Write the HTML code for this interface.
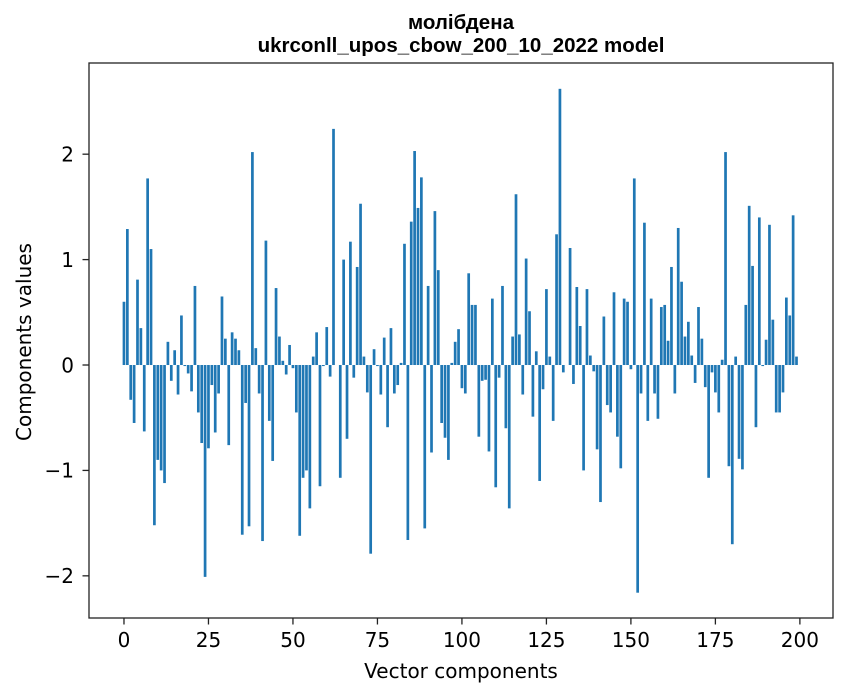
<!DOCTYPE html>
<html><head><meta charset="utf-8"><style>
body{margin:0;background:#fff;}
svg{display:block;font-family:"DejaVu Sans","Liberation Sans",sans-serif;}
</style></head><body>
<svg id="chart" width="847" height="696" xmlns="http://www.w3.org/2000/svg">
<text x="461" y="29" font-size="20.5" font-weight="bold" text-anchor="middle" font-family="Liberation Sans, sans-serif">молібдена</text>
<text x="461" y="52" font-size="20.5" font-weight="bold" text-anchor="middle" font-family="Liberation Sans, sans-serif">ukrconll_upos_cbow_200_10_2022 model</text>
<g id="bars"></g>
<g id="axes"></g>
<text x="461" y="678" font-size="20" text-anchor="middle">Vector components</text>
<text transform="translate(31,342) rotate(-90)" font-size="20" text-anchor="middle">Components values</text>
</svg>
<script>
const values = [0.60,1.29,-0.33,-0.55,0.81,0.35,-0.63,1.77,1.10,-1.52,
-0.90,-1.00,-1.12,0.22,-0.15,0.14,-0.28,0.47,-0.01,-0.08,
-0.25,0.75,-0.45,-0.74,-2.01,-0.79,-0.19,-0.64,-0.27,0.65,
0.25,-0.76,0.31,0.25,0.14,-1.61,-0.36,-1.53,2.02,0.16,
-0.27,-1.67,1.18,-0.53,-0.91,0.73,0.27,0.04,-0.09,0.19,
-0.03,-0.45,-1.62,-1.07,-1.00,-1.36,0.08,0.31,-1.15,-0.01,
0.36,-0.11,2.24,0.00,-1.07,1.00,-0.70,1.17,-0.12,0.93,
1.53,0.08,-0.26,-1.79,0.15,-0.01,-0.28,0.26,-0.59,0.35,
-0.27,-0.19,0.02,1.15,-1.66,1.36,2.03,1.49,1.78,-1.55,
0.75,-0.83,1.46,0.90,-0.55,-0.69,-0.90,0.02,0.22,0.34,
-0.22,-0.27,0.87,0.57,0.57,-0.68,-0.15,-0.14,-0.82,0.63,
-1.16,-0.12,0.75,-0.60,-1.36,0.27,1.62,0.29,-0.28,1.01,
0.51,-0.49,0.13,-1.10,-0.23,0.72,0.08,-0.53,1.24,2.62,
-0.07,0.00,1.11,-0.18,0.74,0.37,-1.00,0.72,0.09,-0.06,
-0.80,-1.30,0.46,-0.38,-0.45,0.69,-0.68,-0.98,0.63,0.60,
-0.04,1.77,-2.16,-0.27,1.35,-0.53,0.63,-0.27,-0.51,0.55,
0.57,0.23,0.93,-0.27,1.30,0.79,0.27,0.41,0.09,-0.17,
0.55,0.25,-0.21,-1.07,-0.07,-0.26,-0.45,0.05,2.02,-0.96,
-1.70,0.08,-0.89,-0.99,0.57,1.51,0.94,-0.59,1.40,-0.01,
0.24,1.33,0.43,-0.45,-0.45,-0.26,0.64,0.47,1.42,0.08];
const xTicks = [0,25,50,75,100,125,150,175,200];
const yTicks = [-2,-1,0,1,2];
const yTickLabels = ["\u22122","\u22121","0","1","2"];

const L=89,R=833,T=63,B=618;
const xMin=-10.35,xMax=209.8,yMin=-2.40,yMax=2.865;
const xs=v=>L+(v-xMin)/(xMax-xMin)*(R-L);
const ys=v=>B-(v-yMin)/(yMax-yMin)*(B-T);
const NS="http://www.w3.org/2000/svg";
const bars=document.getElementById('bars');
values.forEach((v,i)=>{
  const r=document.createElementNS(NS,'rect');
  const x0=xs(i-0.4),x1=xs(i+0.4);
  const y0=ys(Math.max(v,0)),y1=ys(Math.min(v,0));
  r.setAttribute('x',x0);r.setAttribute('width',x1-x0);
  r.setAttribute('y',y0);r.setAttribute('height',Math.max(y1-y0,0.01));
  r.setAttribute('fill','#1f77b4');
  
  
  bars.appendChild(r);
});
const axes=document.getElementById('axes');
const frame=document.createElementNS(NS,'rect');
frame.setAttribute('x',L);frame.setAttribute('y',T);frame.setAttribute('width',R-L);frame.setAttribute('height',B-T);
frame.setAttribute('fill','none');frame.setAttribute('stroke','#222');frame.setAttribute('stroke-width','1.3');


axes.appendChild(frame);
xTicks.forEach(t=>{
  const x=xs(t);
  const l=document.createElementNS(NS,'line');
  l.setAttribute('x1',x);l.setAttribute('x2',x);l.setAttribute('y1',B);l.setAttribute('y2',B+6.5);l.setAttribute('stroke','#222');l.setAttribute('stroke-width','1.3');
  
  
  axes.appendChild(l);
  const tx=document.createElementNS(NS,'text');
  tx.setAttribute('x',x);tx.setAttribute('y',647);tx.setAttribute('font-size','20');tx.setAttribute('text-anchor','middle');
  tx.textContent=t;
  
  
  axes.appendChild(tx);
});
yTicks.forEach((t,i)=>{
  const y=ys(t);
  const l=document.createElementNS(NS,'line');
  l.setAttribute('x1',L-6.5);l.setAttribute('x2',L);l.setAttribute('y1',y);l.setAttribute('y2',y);l.setAttribute('stroke','#222');l.setAttribute('stroke-width','1.3');
  
  
  axes.appendChild(l);
  const tx=document.createElementNS(NS,'text');
  tx.setAttribute('x',74);tx.setAttribute('y',y+7.3);tx.setAttribute('font-size','20');tx.setAttribute('text-anchor','end');
  tx.textContent=yTickLabels[i];
  
  
  axes.appendChild(tx);
});
</script>
</body></html>
